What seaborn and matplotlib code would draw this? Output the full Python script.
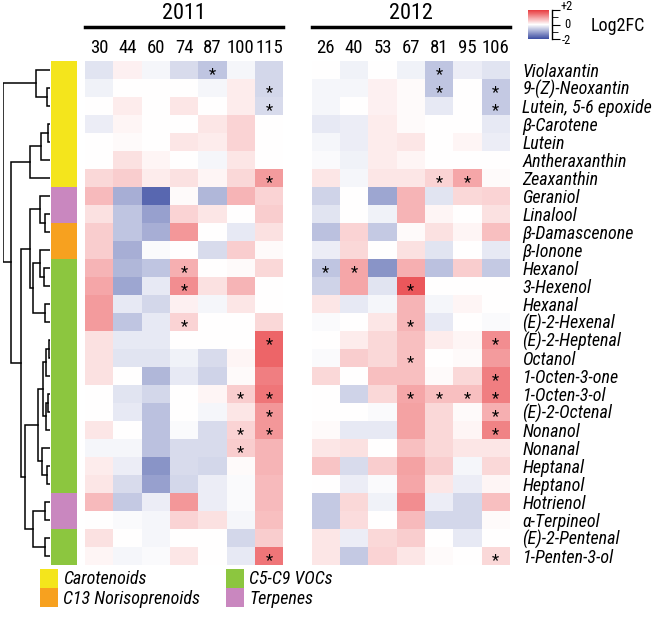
import numpy as np
import pandas as pd
import matplotlib
matplotlib.use("Agg")
import matplotlib.pyplot as plt
import seaborn as sns
from matplotlib.colors import LinearSegmentedColormap, ListedColormap
from matplotlib.patches import Patch
from matplotlib import font_manager

# ---- data ----
compounds = [
    "Violaxantin", "9-(Z)-Neoxantin", "Lutein, 5-6 epoxide", "β-Carotene",
    "Lutein", "Antheraxanthin", "Zeaxanthin", "Geraniol", "Linalool",
    "β-Damascenone", "β-Ionone", "Hexanol", "3-Hexenol", "Hexanal",
    "(E)-2-Hexenal", "(E)-2-Heptenal", "Octanol", "1-Octen-3-one",
    "1-Octen-3-ol", "(E)-2-Octenal", "Nonanol", "Nonanal", "Heptanal",
    "Heptanol", "Hotrienol", "α-Terpineol", "(E)-2-Pentenal", "1-Penten-3-ol",
]

groups = (["Carotenoids"] * 7 + ["Terpenes"] * 2 + ["C13 Norisoprenoids"] * 2
          + ["C5-C9 VOCs"] * 13 + ["Terpenes"] * 2 + ["C5-C9 VOCs"] * 2)

group_names = ["Carotenoids", "C13 Norisoprenoids", "C5-C9 VOCs", "Terpenes"]
group_colors = ["#f4e51c", "#f7a11f", "#8cc63f", "#c987bf"]

weeks_2011 = ["30", "44", "60", "74", "87", "100", "115"]
weeks_2012 = ["26", "40", "53", "67", "81", "95", "106"]

log2fc_2011 = [
    [-0.30, 0.15, -0.10, -0.40, -0.65, -0.10, -0.45],
    [-0.15, 0.00, 0.00, 0.00, -0.10, 0.20, -0.45],
    [0.00, 0.20, 0.00, 0.25, 0.00, 0.20, -0.40],
    [-0.20, 0.10, 0.00, 0.00, 0.25, 0.45, 0.00],
    [0.00, 0.05, 0.00, 0.25, 0.20, 0.45, 0.00],
    [0.00, 0.30, 0.10, 0.00, -0.10, 0.25, 0.00],
    [0.40, 0.50, 0.20, 0.30, 0.10, 0.40, 1.00],
    [0.70, -0.90, -1.70, 0.05, -0.80, 0.75, 0.45],
    [0.30, -0.65, -1.05, 0.45, 0.25, 0.00, 0.50],
    [0.50, -0.65, -0.90, 1.05, 0.00, -0.25, 0.30],
    [0.50, -0.90, -0.05, 0.00, -0.40, 0.50, 0.05],
    [0.75, -0.80, -0.65, 0.80, 0.00, 0.05, 0.40],
    [0.90, -1.00, -0.25, 1.15, 0.30, 0.75, 0.00],
    [1.00, -0.25, -0.45, 0.15, -0.10, 0.25, 0.00],
    [1.00, -0.65, -0.25, 0.45, 0.00, 0.00, 0.40],
    [0.30, -0.25, -0.25, 0.00, 0.00, 0.00, 1.55],
    [0.30, -0.30, -0.30, -0.15, -0.40, 0.10, 1.55],
    [0.30, 0.00, -0.80, -0.25, -0.50, 0.05, 1.30],
    [0.00, -0.30, -0.45, 0.00, 0.10, 0.50, 1.40],
    [0.00, -0.25, -0.70, 0.00, -0.10, 0.25, 1.05],
    [0.25, 0.00, -0.70, -0.05, -0.40, 0.45, 1.05],
    [-0.10, -0.10, -0.70, -0.40, -0.40, 0.50, 0.75],
    [0.20, -0.20, -1.20, -0.40, -0.45, 0.05, 0.75],
    [0.25, -0.40, -1.05, -0.45, -0.20, -0.05, 0.70],
    [0.70, -0.60, -0.20, 1.05, -0.20, -0.05, 0.70],
    [0.00, -0.05, -0.10, 0.45, 0.30, -0.10, 0.65],
    [0.30, 0.00, -0.10, 0.00, 0.00, -0.45, 0.50],
    [0.10, -0.10, -0.05, 0.25, 0.00, -0.25, 1.40],
]

log2fc_2012 = [
    [0.00, -0.15, 0.00, -0.15, -0.65, -0.20, -0.30],
    [-0.10, -0.10, 0.15, 0.05, -0.65, 0.00, -0.60],
    [-0.10, 0.00, 0.15, 0.05, -0.25, 0.00, -0.60],
    [-0.25, -0.20, 0.20, 0.05, 0.00, 0.00, -0.25],
    [-0.10, -0.20, 0.20, 0.25, 0.00, 0.10, -0.20],
    [-0.05, -0.15, 0.20, 0.10, 0.00, 0.00, 0.00],
    [0.25, -0.10, 0.25, 0.25, 0.45, 0.90, 0.05],
    [-0.50, 0.00, -1.00, 0.75, -0.30, 0.40, 0.45],
    [-0.30, 0.00, -0.15, 0.75, 0.10, 0.00, 0.30],
    [-0.70, 0.45, -0.60, 0.05, 0.30, 0.10, 0.65],
    [-0.20, 0.40, 0.00, 0.30, -0.30, 0.00, -0.25],
    [-0.65, 0.90, -1.20, 0.80, -0.70, 0.50, -0.60],
    [-0.50, 0.90, -0.30, 1.70, 0.00, 0.00, 0.00],
    [0.25, -0.25, -0.10, 0.75, -0.10, 0.10, 0.00],
    [-0.05, 0.00, 0.25, 0.75, -0.25, 0.00, -0.05],
    [0.00, 0.20, 0.40, 0.65, 0.20, 0.10, 1.15],
    [-0.05, 0.50, 0.40, 0.65, 0.00, 0.05, 1.00],
    [0.40, 0.00, 0.65, 0.65, 0.05, 0.40, 1.30],
    [0.00, -0.50, 0.40, 0.90, 0.65, 0.65, 1.30],
    [0.00, 0.00, -0.05, 0.95, 0.40, 0.05, 0.80],
    [0.05, -0.25, -0.25, 0.95, 0.40, 0.10, 1.25],
    [0.25, 0.30, 0.00, 0.65, 0.40, 0.25, 0.25],
    [0.60, -0.40, 0.50, 0.95, 0.50, -0.10, 0.40],
    [0.00, -0.20, -0.05, 0.90, 0.25, -0.20, 0.10],
    [-0.60, 0.40, -0.15, 1.15, -0.20, -0.45, 0.65],
    [-0.60, 0.35, 0.00, 0.70, -0.45, -0.45, 0.05],
    [0.25, -0.20, 0.40, 0.50, 0.00, -0.25, 0.00],
    [0.25, -0.60, 0.45, 0.25, 0.05, 0.00, 0.40],
]

# significant cells (compound, week)
sig_2011 = [
    ("Violaxantin", "87"), ("9-(Z)-Neoxantin", "115"), ("Lutein, 5-6 epoxide", "115"),
    ("Zeaxanthin", "115"), ("Hexanol", "74"), ("3-Hexenol", "74"),
    ("(E)-2-Hexenal", "74"), ("(E)-2-Heptenal", "115"), ("1-Octen-3-ol", "100"),
    ("1-Octen-3-ol", "115"), ("(E)-2-Octenal", "115"), ("Nonanol", "100"),
    ("Nonanol", "115"), ("Nonanal", "100"), ("1-Penten-3-ol", "115"),
]
sig_2012 = [
    ("Violaxantin", "81"), ("9-(Z)-Neoxantin", "81"), ("9-(Z)-Neoxantin", "106"),
    ("Lutein, 5-6 epoxide", "106"), ("Zeaxanthin", "81"), ("Zeaxanthin", "95"),
    ("Hexanol", "26"), ("Hexanol", "40"), ("3-Hexenol", "67"),
    ("(E)-2-Hexenal", "67"), ("(E)-2-Heptenal", "106"), ("Octanol", "67"),
    ("1-Octen-3-one", "106"), ("1-Octen-3-ol", "67"), ("1-Octen-3-ol", "81"),
    ("1-Octen-3-ol", "95"), ("1-Octen-3-ol", "106"), ("(E)-2-Octenal", "106"),
    ("Nonanol", "106"), ("1-Penten-3-ol", "106"),
]

# row dendrogram: (left, right, height), leaves 0..27, new clusters from 28
linkage = [
    (1, 2, 3.0), (0, 28, 14.0), (3, 4, 1.5), (30, 5, 9.0), (31, 6, 20.0),
    (8, 9, 5.0), (7, 33, 10.0), (11, 12, 6.0), (10, 35, 10.0), (13, 14, 5.0),
    (36, 37, 17.0), (34, 38, 20.0), (15, 16, 1.0), (40, 17, 4.0), (18, 19, 2.0),
    (42, 20, 4.0), (41, 43, 7.0), (22, 23, 3.0), (21, 45, 8.0), (44, 46, 12.0),
    (24, 25, 5.0), (26, 27, 5.0), (48, 49, 17.0), (47, 50, 25.0), (39, 51, 29.3),
    (32, 52, 39.3), (29, 53, 46.7),
]

# ---- fonts: prefer a narrow sans if one is installed ----
installed = {f.name for f in font_manager.fontManager.ttflist}
narrow = None
for name in ["Liberation Sans Narrow", "Arial Narrow", "Roboto Condensed",
             "Open Sans Condensed", "Noto Sans Condensed", "DejaVu Sans Condensed"]:
    if name in installed:
        narrow = name
        break
if narrow is None:
    for f in font_manager.fontManager.ttflist:
        if "Narrow" in f.name or "Condensed" in f.name:
            narrow = f.name
            break
if narrow is None:
    narrow = "Liberation Sans"
plt.rcParams["font.family"] = [narrow, "DejaVu Sans"]

W, H = 667, 619
fig = plt.figure(figsize=(W / 100, H / 100), dpi=100)


def px_axes(x0, y0, x1, y1):
    return fig.add_axes([x0 / W, 1 - y1 / H, (x1 - x0) / W, (y1 - y0) / H])


top, bottom = 60.7, 564.7
ax = px_axes(85, top, 510, bottom)
cax = px_axes(528, 10, 549, 39)
gax = px_axes(51, top, 77, bottom)
dax = px_axes(3, top, 50, bottom)

# ---- main heatmap (with empty spacer column between years) ----
df = pd.concat([
    pd.DataFrame(log2fc_2011, index=compounds, columns=weeks_2011),
    pd.DataFrame({" ": np.nan}, index=compounds),
    pd.DataFrame(log2fc_2012, index=compounds, columns=weeks_2012),
], axis=1)

stars = pd.DataFrame("", index=df.index, columns=df.columns)
for name, wk in sig_2011 + sig_2012:
    stars.loc[name, wk] = "*"

cmap = LinearSegmentedColormap.from_list("log2fc", ["#3b4ca2", "#ffffff", "#e83a3e"])
sns.heatmap(df, ax=ax, cmap=cmap, vmin=-2, vmax=2, cbar_ax=cax,
            annot=stars, fmt="", annot_kws={"fontsize": 12, "color": "black"},
            xticklabels=True, yticklabels=True)
# asterisks sit high in the font box, nudge them to the cell centre
for t in ax.texts:
    x, y = t.get_position()
    t.set_position((x, y + 0.28))

ax.xaxis.tick_top()
ax.yaxis.tick_right()
ax.tick_params(length=0)
ax.set_xticklabels(df.columns, rotation=0, fontsize=16)
ax.tick_params(axis="x", pad=3)
ax.set_yticklabels(compounds, rotation=0, fontsize=13, style="italic", ha="left")
ax.tick_params(axis="y", pad=9)
ax.set_xlabel("")
ax.set_ylabel("")

# shrink week labels until three-digit ones fit inside a cell
fig.canvas.draw()
renderer = fig.canvas.get_renderer()
widest = max(t.get_window_extent(renderer).width for t in ax.get_xticklabels())
cell_w = 425 / df.shape[1]
col_fs = 16 * min(1.0, (cell_w - 0.6) / widest)
for t in ax.get_xticklabels():
    t.set_fontsize(col_fs)

# year headers
tr = ax.get_xaxis_transform()
for x0, x1, year in [(0, 7, "2011"), (8, 15, "2012")]:
    ax.plot([x0, x1], [1.0675, 1.0675], transform=tr, clip_on=False, color="black", lw=2.5)
    ax.text((x0 + x1) / 2, 1.094, year, transform=tr, ha="center", va="center", fontsize=16)

# colorbar
cbar = ax.collections[0].colorbar
cbar.outline.set_visible(False)
cax.set_yticks([])
eax = px_axes(552, 10, 560, 39)
eax.set_ylim(-2, 2)
eax.patch.set_visible(False)
for s in ["top", "right", "bottom"]:
    eax.spines[s].set_visible(False)
eax.spines["left"].set_linewidth(1)
eax.set_xticks([])
eax.set_yticks([-2, 0, 2])
eax.set_yticks([-1, 1], minor=True)
eax.tick_params(axis="y", which="major", direction="in", length=6, labelleft=False)
eax.tick_params(axis="y", which="minor", direction="in", length=4)
fig.text(561 / W, 1 - 7 / H, "+2", fontsize=9, va="center")
fig.text(564 / W, 1 - 25 / H, "0", fontsize=9, va="center")
fig.text(562 / W, 1 - 41 / H, "-2", fontsize=9, va="center")
fig.text(591 / W, 1 - 26 / H, "Log2FC", fontsize=13, va="center")

# group side bar
codes = pd.DataFrame({"g": [group_names.index(g) for g in groups]}, index=compounds)
sns.heatmap(codes, ax=gax, cmap=ListedColormap(group_colors), vmin=-0.5, vmax=3.5,
            cbar=False, xticklabels=False, yticklabels=False)
gax.set_xlabel("")
gax.set_ylabel("")

# dendrogram
n = len(compounds)
pos = {i: (i + 0.5, 0.0) for i in range(n)}
for k, (a, b, h) in enumerate(linkage):
    ya, ha = pos[a]
    yb, hb = pos[b]
    dax.plot([ha, h, h, hb], [ya, ya, yb, yb], color="black", lw=1.1, solid_joinstyle="miter")
    pos[n + k] = ((ya + yb) / 2, h)
dax.set_ylim(n, 0)
dax.set_xlim(47, 0)
dax.axis("off")

# group legend
handles = [Patch(facecolor=c, edgecolor="none", label=l) for l, c in zip(group_names, group_colors)]
leg = fig.legend(handles=handles, ncol=2, loc="upper left", bbox_to_anchor=(40 / W, 1 - 569 / H),
                 frameon=False, fontsize=13, borderpad=0, borderaxespad=0, labelspacing=0,
                 handlelength=1.0, handleheight=1.2, handletextpad=0.3, columnspacing=1.4)
for t in leg.get_texts():
    t.set_fontstyle("italic")

fig.savefig("out.png", dpi=100)
